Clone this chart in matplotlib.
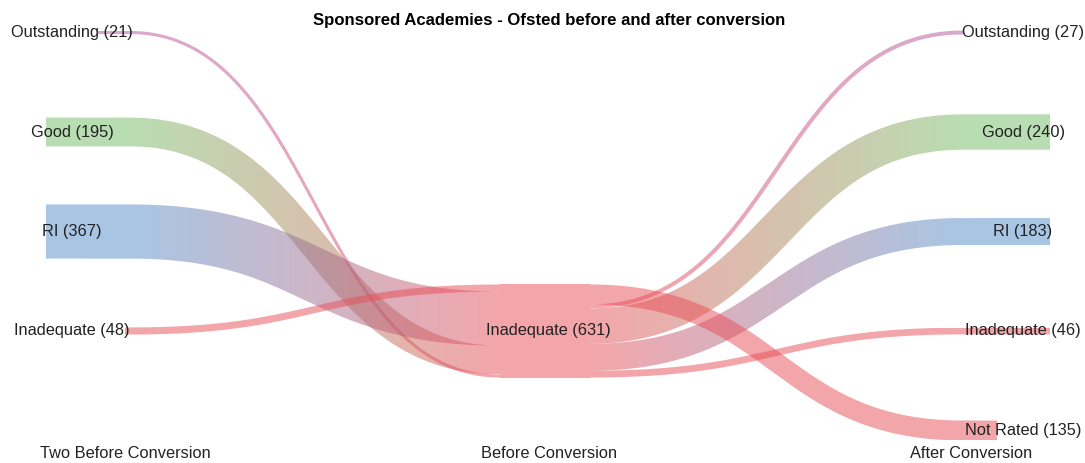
import numpy as np
import matplotlib
matplotlib.use("Agg")
import matplotlib.pyplot as plt
from matplotlib.path import Path
from matplotlib.patches import PathPatch, Rectangle

# ---------------- data ----------------
title = "Sponsored Academies - Ofsted before and after conversion"
stages = ["Two Before Conversion", "Before Conversion", "After Conversion"]
left_nodes = ["Outstanding", "Good", "RI", "Inadequate"]
left_values = [21, 195, 367, 48]          # two before conversion -> Inadequate (before)
mid_nodes = ["Inadequate"]
mid_values = [631]
right_nodes = ["Outstanding", "Good", "RI", "Inadequate", "Not Rated"]
right_values = [27, 240, 183, 46, 135]    # Inadequate (before) -> after conversion

# ---------------- style / layout ----------------
W, H = 1085, 463
FONT = "Liberation Sans"
base_col = {
    "Outstanding": (178, 82, 160),
    "Good": (115, 187, 101),
    "RI": (81, 141, 201),
    "Inadequate": (232, 76, 86),
    "Not Rated": (232, 76, 86),
}
ALPHA = 0.5
SCALE = 0.1475            # px per school
SLOT0, SLOT_GAP = 32.5, 99.5
LEFT_CURVE_X0, LEFT_CURVE_X1 = 130, 500
MID_X0, MID_X1 = 500, 590
RIGHT_CURVE_X0, RIGHT_CURVE_X1 = 590, 963
left_flat_start = [97, 46, 46, 125]
right_flat_end = [963, 1050, 1050, 1050, 997]
mid_in_order = [3, 2, 1, 0]       # stacking of incoming links at middle (top->bottom)
mid_out_order = [4, 0, 1, 2, 3]   # stacking of outgoing links at middle
label_col = "#222222"

fig = plt.figure(figsize=(W / 100, H / 100), dpi=100)
ax = fig.add_axes([0, 0, 1, 1])
ax.set_axis_off()


def ribbon(xa, xs, ys, xe, ye, xb, w, c0, c1, z=2):
    n = 200
    t = np.linspace(0, 1, n)
    dx = xe - xs
    p0 = np.array([xs, ys]); p1 = np.array([xs + dx * 0.5, ys])
    p2 = np.array([xe - dx * 0.5, ye]); p3 = np.array([xe, ye])
    bez = ((1 - t) ** 3)[:, None] * p0 + (3 * (1 - t) ** 2 * t)[:, None] * p1 \
        + (3 * (1 - t) * t ** 2)[:, None] * p2 + (t ** 3)[:, None] * p3
    dpts = (3 * (1 - t) ** 2)[:, None] * (p1 - p0) + (6 * (1 - t) * t)[:, None] * (p2 - p1) \
        + (3 * t ** 2)[:, None] * (p3 - p2)
    pts = [bez]; tans = [dpts]
    if xa < xs:
        pts.insert(0, np.array([[xa, ys]])); tans.insert(0, np.array([[1.0, 0.0]]))
    if xb > xe:
        pts.append(np.array([[xb, ye]])); tans.append(np.array([[1.0, 0.0]]))
    pts = np.vstack(pts); tan = np.vstack(tans)
    tan = tan / np.linalg.norm(tan, axis=1)[:, None]
    nrm = np.column_stack([-tan[:, 1], tan[:, 0]])
    up = pts + nrm * w / 2
    lo = pts - nrm * w / 2
    poly = np.vstack([up, lo[::-1], up[:1]])
    xmin, xmax = poly[:, 0].min(), poly[:, 0].max()
    ymin, ymax = poly[:, 1].min(), poly[:, 1].max()
    ncol = max(int(xmax - xmin) + 1, 2)
    xs_img = np.linspace(xmin, xmax, ncol)
    tt = np.clip((xs_img - xs) / (xe - xs), 0, 1)
    c0 = np.array(c0) / 255.0; c1 = np.array(c1) / 255.0
    cols = c0[None, :] * (1 - tt[:, None]) + c1[None, :] * tt[:, None]
    arr = np.zeros((2, ncol, 4))
    arr[:, :, :3] = cols[None, :, :]
    arr[:, :, 3] = ALPHA
    im = ax.imshow(arr, extent=[xmin, xmax, ymax, ymin], origin="upper",
                   interpolation="bilinear", zorder=z, aspect="auto")
    patch = PathPatch(Path(poly), facecolor="none", edgecolor="none",
                      transform=ax.transData)
    ax.add_patch(patch)
    im.set_clip_path(patch)


mid_total = mid_values[0] * SCALE
mid_center = SLOT0 + 3 * SLOT_GAP
mid_top = mid_center - mid_total / 2

# middle node block
mc = np.array(base_col[mid_nodes[0]]) / 255.0
ax.add_patch(Rectangle((MID_X0, mid_top), MID_X1 - MID_X0, mid_total,
                       facecolor=(*mc, ALPHA), edgecolor="none", zorder=2))

# incoming ribbons
in_pos = {}
y = mid_top
for i in mid_in_order:
    w = left_values[i] * SCALE
    in_pos[i] = y + w / 2
    y += w
for i, name in enumerate(left_nodes):
    w = left_values[i] * SCALE
    ys = SLOT0 + i * SLOT_GAP
    ribbon(left_flat_start[i], LEFT_CURVE_X0, ys, LEFT_CURVE_X1, in_pos[i], MID_X0, w,
           base_col[name], base_col[mid_nodes[0]])

# outgoing ribbons
out_pos = {}
y = mid_top
for i in mid_out_order:
    w = right_values[i] * SCALE
    out_pos[i] = y + w / 2
    y += w
for i, name in enumerate(right_nodes):
    w = right_values[i] * SCALE
    ye = SLOT0 + i * SLOT_GAP
    ribbon(MID_X1, RIGHT_CURVE_X0, out_pos[i], RIGHT_CURVE_X1, ye, right_flat_end[i], w,
           base_col[mid_nodes[0]], base_col[name])

# labels
fs = 11.8
for i, name in enumerate(left_nodes):
    ax.text(72, SLOT0 + i * SLOT_GAP, f"{name} ({left_values[i]})", ha="center", va="center",
            fontsize=fs, family=FONT, color=label_col, zorder=10)
for i, name in enumerate(right_nodes):
    ax.text(1023, SLOT0 + i * SLOT_GAP, f"{name} ({right_values[i]})", ha="center", va="center",
            fontsize=fs, family=FONT, color=label_col, zorder=10)
ax.text(548, mid_center, f"{mid_nodes[0]} ({mid_values[0]})", ha="center", va="center",
        fontsize=fs, family=FONT, color=label_col, zorder=10)

for x, s in zip([125, 549, 971], stages):
    ax.text(x, 453, s, ha="center", va="center", fontsize=fs, family=FONT,
            color=label_col, zorder=10)

ax.text(549, 21, title, ha="center", va="center", fontsize=12.1, family=FONT,
        weight="bold", color="black", zorder=10)

ax.set_xlim(0, W)
ax.set_ylim(H, 0)
fig.savefig("out.png", dpi=100, facecolor="white")
